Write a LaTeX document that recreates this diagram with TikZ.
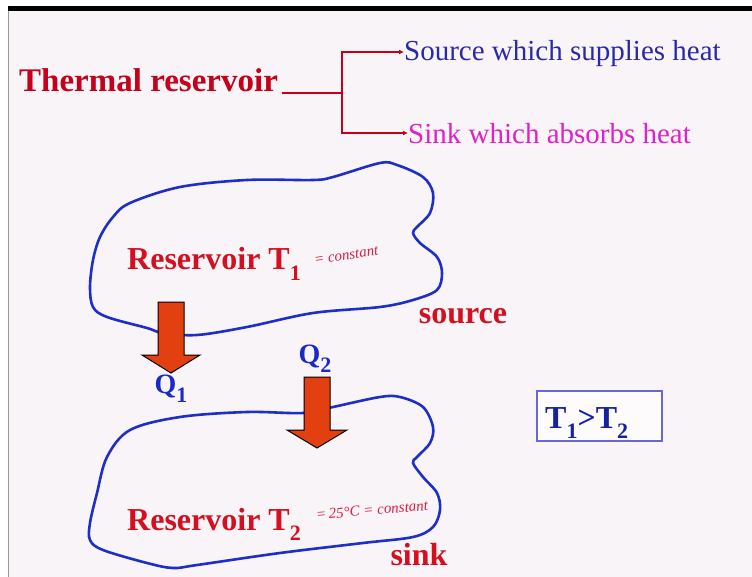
\documentclass[tikz,border=0pt]{standalone}
\usepackage{fontspec}
\setmainfont{Liberation Serif}
\definecolor{bg}{HTML}{F9F4F7}
\definecolor{tred}{HTML}{C4001A}
\definecolor{rred}{HTML}{D41020}
\definecolor{navy}{HTML}{2A2AA8}
\definecolor{mag}{HTML}{E020C8}
\definecolor{blobblue}{HTML}{1E2EC8}
\definecolor{qblue}{HTML}{1A2AC8}
\definecolor{arrfill}{HTML}{E24010}
\definecolor{boxblue}{HTML}{6868D0}
\definecolor{hand}{HTML}{D82040}
\newcommand{\mysub}[1]{\raisebox{-0.32em}{\fontsize{22}{22}\selectfont #1}}
\tikzset{
  bracket/.style={draw=tred, line width=2.2pt},
  brarrow/.style={bracket, -{Latex[length=5pt,width=5pt]}},
  blob/.style={draw=blobblue, line width=2.6pt, smooth cycle, tension=0.55},
  heatarrow/.style={fill=arrfill, draw=black, line width=1pt, line join=miter},
  big/.style={font=\fontsize{32}{32}\selectfont\bfseries},
  handw/.style={font=\fontsize{15}{15}\selectfont\itshape, text=hand, inner sep=0pt},
}
\usetikzlibrary{arrows.meta}
\begin{document}
\begin{tikzpicture}[x=1pt,y=-1pt]
\useasboundingbox (0,0) rectangle (752,577);
\fill[white] (0,0) rectangle (752,577);
\fill[bg] (9,11) rectangle (752,577);
\fill[black] (8,6) rectangle (752,11);
\draw[gray!80, line width=1.5pt] (8.5,11) -- (8.5,577);

% header
\node[anchor=west, inner sep=0pt, text=tred, font=\fontsize{33}{33}\selectfont\bfseries] (tr) at (19,80) {Thermal reservoir};
\node[anchor=west, inner sep=0pt, text=navy, font=\fontsize{29}{29}\selectfont] (src) at (404,54) {Source which supplies heat};
\node[anchor=west, inner sep=0pt, text=mag, font=\fontsize{29}{29}\selectfont] (snk) at (408,134) {Sink which absorbs heat};
\coordinate (j) at (342,93);
\draw[bracket] ([xshift=4pt]tr.east |- j) -- (j);
\draw[brarrow] (j) |- ([yshift=2pt]src.west);
\draw[brarrow] (j) |- ([yshift=1pt]snk.west);

% blobs
\draw[blob] plot coordinates {(130,203) (180,187) (247,180) (313,180) (333,177) (380,163) (397,165) (423,177) (433,193) (430,213) (417,227) (413,233) (420,243) (437,257) (442,273) (437,290) (413,300) (380,307) (313,313) (247,327) (197,335) (163,333) (147,328) (107,317) (93,307) (90,287) (93,260) (100,237) (113,217)};
\draw[blob] plot coordinates {(130,430) (180,417) (247,412) (303,413) (333,407) (380,397) (400,397) (423,407) (433,427) (430,443) (417,457) (413,463) (423,477) (437,493) (440,510) (433,527) (413,537) (363,543) (280,553) (197,565) (173,568) (147,563) (103,550) (90,540) (90,523) (97,493) (107,457)};

% heat arrows
\draw[heatarrow] (158,302) -- (184,302) -- (184,355) -- (200,355) -- (171,373) -- (142,355) -- (158,355) -- cycle;
\draw[heatarrow] (304,377) -- (330,377) -- (330,430) -- (347,430) -- (317,448) -- (287,430) -- (304,430) -- cycle;

% reservoir labels
\node[anchor=base west, inner sep=0pt, text=rred, big] (r1) at (127,270) {Reservoir T\mysub{1}};
\node[handw, rotate=8, anchor=west] (c1) at (314,260) {= constant};
\node[anchor=base west, inner sep=0pt, text=rred, big] (r2) at (127,530) {Reservoir T\mysub{2}};
\node[handw, rotate=5, anchor=west] (c2) at (316,515) {=\,25\textdegree C = constant};
\node[text=rred, big, inner sep=0pt] (so) at (463,316) {source};
\node[text=rred, big, inner sep=0pt] (si) at (419,555) {sink};

% Q labels
\node[text=qblue, font=\fontsize{28}{28}\selectfont\bfseries, inner sep=0pt] (q1) at (171,389) {Q\mysub{1}};
\node[text=qblue, font=\fontsize{28}{28}\selectfont\bfseries, inner sep=0pt] (q2) at (315,359) {Q\mysub{2}};

% comparison box
\draw[boxblue, line width=1.2pt, fill=white!60!bg] (537,391) rectangle (662,441);
\node[anchor=base west, inner sep=0pt, text=qblue!80!black, big] (cmp) at (545,428) {T\mysub{1}>T\mysub{2}};
\end{tikzpicture}
\end{document}
